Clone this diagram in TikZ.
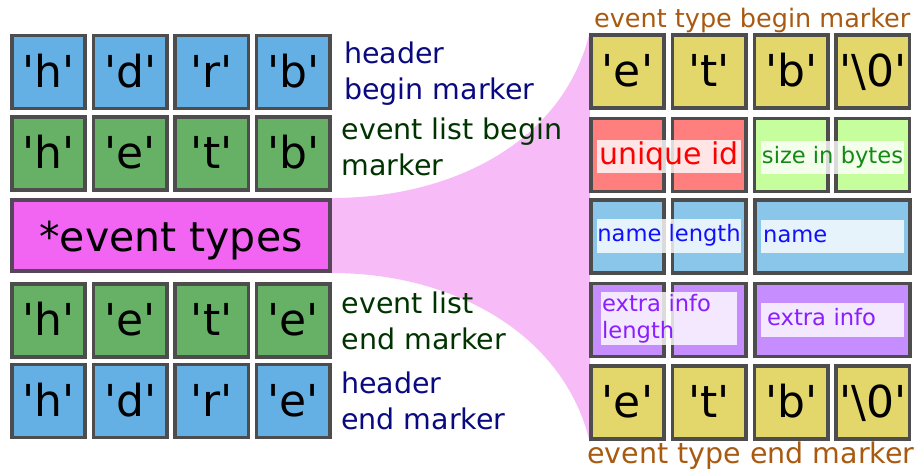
\documentclass[tikz,border=0pt]{standalone}
\usepackage{fontspec}
% DejaVu Sans without TeX ligatures, so ' stays a straight quote
\newfontfamily\djv{DejaVu Sans}
\definecolor{boxline}{HTML}{4D4D4D}
\definecolor{typeline}{HTML}{55465A}
\definecolor{hdrblue}{HTML}{64B0E4}
\definecolor{lstgreen}{HTML}{66B166}
\definecolor{typepink}{HTML}{F264F2}
\definecolor{funnel}{HTML}{F7BCF7}
\definecolor{markyellow}{HTML}{E3D66A}
\definecolor{idred}{HTML}{FF7F7F}
\definecolor{sizegreen}{HTML}{C6FE9E}
\definecolor{nameblue}{HTML}{8AC6EA}
\definecolor{infopurple}{HTML}{C68DFE}
\definecolor{navytext}{HTML}{0A0A80}
\definecolor{greentext}{HTML}{003300}
\definecolor{browntext}{HTML}{A85A10}
\definecolor{idtext}{HTML}{FF0000}
\definecolor{sizetext}{HTML}{138A13}
\definecolor{nametext}{HTML}{1010FF}
\definecolor{infotext}{HTML}{8A1EFF}
\begin{document}
\begin{tikzpicture}[x=1pt,y=-1pt,
  cell/.style={draw=boxline, line width=3.6pt, minimum width=73.4pt, minimum height=72.9pt,
    inner sep=0pt, font=\djv\fontsize{44}{44}\selectfont, text height=30pt, text depth=0pt},
  widecell/.style={cell, minimum width=155.4pt},
  typesbox/.style={draw=typeline, line width=3.6pt, minimum width=318.4pt, minimum height=71.4pt,
    inner sep=0pt, fill=typepink, font=\djv\fontsize{41}{41}\selectfont, text height=31pt, text depth=0pt},
  sidelabel/.style={anchor=north west, inner sep=0pt, align=left,
    font=\djv\fontsize{28.5}{36}\selectfont},
  title/.style={anchor=base west, inner sep=0pt},
  tag/.style={fill=white, fill opacity=0.8, text opacity=1, inner sep=0pt,
    minimum height=33pt, font=\djv\fontsize{22.6}{27}\selectfont,
    text height=17.2pt, text depth=5.4pt},
]
\useasboundingbox (0,0) rectangle (919,472);

% event types box on the left
\node[typesbox] (types) at (171,235.5) {*event types};

% funnel that opens from the event types box to its expansion on the right
\fill[funnel] (types.north east) .. controls (455,198) and (565,140) .. (590,31)
  -- (590,443) .. controls (565,335) and (455,273) .. (types.south east) -- cycle;
\node[typesbox] at (types) {*event types};

% left column: header and event list markers
\foreach \c [count=\i] in {h,d,r,b}
  \node[cell, fill=hdrblue] (hb\i) at ({48.5+81.6*(\i-1)},72) {'\c'};
\foreach \c [count=\i] in {h,e,t,b}
  \node[cell, fill=lstgreen] (lb\i) at ({48.5+81.6*(\i-1)},153.5) {'\c'};
\foreach \c [count=\i] in {h,e,t,e}
  \node[cell, fill=lstgreen] (le\i) at ({48.5+81.6*(\i-1)},320.5) {'\c'};
\foreach \c [count=\i] in {h,d,r,e}
  \node[cell, fill=hdrblue] (he\i) at ({48.5+81.6*(\i-1)},401) {'\c'};

% left column labels
\node[sidelabel, text=navytext] (lblhb) at (344,41.5) {header\\begin marker};
\node[sidelabel, text=greentext] (lbllb) at (341.5,117.5) {event list begin\\marker};
\node[sidelabel, text=greentext] (lblle) at (341.5,291.5) {event list\\end marker};
\node[sidelabel, text=navytext] (lblhe) at (341,371.5) {header\\end marker};

% right column: one event type record
\foreach \c [count=\i] in {e,t,b,\textbackslash0}
  \node[cell, fill=markyellow, minimum height=73.4pt] (tb\i) at ({627.5+81.8*(\i-1)},71.5) {'\c'};
\node[cell, fill=idred] (id1) at (627.5,155) {};
\node[cell, fill=idred] (id2) at (709.3,155) {};
\node[cell, fill=sizegreen] (sz1) at (791.1,155) {};
\node[cell, fill=sizegreen] (sz2) at (872.9,155) {};
\node[cell, fill=nameblue, minimum height=73.4pt] (nl1) at (627.5,236.5) {};
\node[cell, fill=nameblue, minimum height=73.4pt] (nl2) at (709.3,236.5) {};
\node[widecell, fill=nameblue, minimum height=73.4pt] (nm) at (832.5,236.5) {};
\node[cell, fill=infopurple] (xl1) at (627.5,320) {};
\node[cell, fill=infopurple] (xl2) at (709.3,320) {};
\node[widecell, fill=infopurple] (xi) at (832.5,320) {};
\foreach \c [count=\i] in {e,t,b,\textbackslash0}
  \node[cell, fill=markyellow, minimum height=73.4pt] (te\i) at ({627.5+81.8*(\i-1)},402.5) {'\c'};

% field tags laid over the record cells
\node[tag, minimum width=144pt, text=idtext, font=\djv\fontsize{30}{30}\selectfont,
  text height=22.8pt, text depth=7pt] (idtag) at (669,156.5) {unique id};
\node[tag, minimum width=143pt, text=sizetext] (sztag) at (832.5,157.5) {size in bytes};
\node[tag, minimum width=144pt, minimum height=34pt, text=nametext] (nltag) at (669,236) {name length};
\node[tag, anchor=west, minimum height=33pt, text width=139pt, inner xsep=2pt, align=left,
  text=nametext] (nmtag) at (761,236.5) {name};
\node[tag, anchor=north west, minimum height=53pt, text width=134pt, inner xsep=1pt,
  inner ysep=1.8pt, align=left, text height=, text depth=, text=infotext] (xltag) at (601,292)
  {extra info\\length};
\node[tag, anchor=west, minimum height=34pt, text width=137pt, inner xsep=3pt, align=left,
  text=infotext] (xitag) at (761,320) {\hspace*{3pt}extra info};

% record titles
\node[title, text=browntext, font=\djv\fontsize{25.5}{25.5}\selectfont] (tbtitle) at (594,27)
  {event type begin marker};
\node[title, text=browntext, font=\djv\fontsize{28.5}{28.5}\selectfont] (tetitle) at (587,463)
  {event type end marker};
\end{tikzpicture}
\end{document}
